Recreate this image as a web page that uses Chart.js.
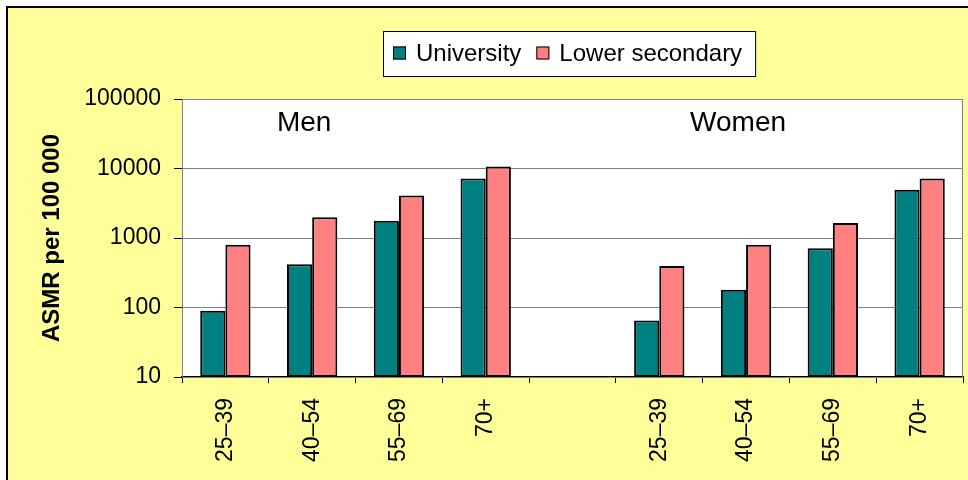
<!DOCTYPE html>
<html>
<head>
<meta charset="utf-8">
<title>ASMR by education</title>
<script src="https://cdn.jsdelivr.net/npm/chart.js@4/dist/chart.umd.min.js"></script>
<style>
  html, body { margin: 0; padding: 0; background: #fff; }
  #frame {
    position: absolute; left: 6px; top: 6px;
    border-left: 2px solid #000; border-top: 2px solid #000;
    background: #ffff99;
  }
  #frame canvas { display: block; }
</style>
</head>
<body>
<div id="frame"><canvas id="chart" width="960" height="472"></canvas></div>
<script>
// Age groups, men first, then one empty slot, then women
const categories = ['25–39', '40–54', '55–69', '70+', '', '25–39', '40–54', '55–69', '70+'];
const university = [90, 420, 1770, 7200, null, 65, 180, 710, 4950];
const lowerSecondary = [800, 1990, 4100, 10700, null, 395, 800, 1650, 7200];
const yTicks = [10, 100, 1000, 10000, 100000];
const groupLabels = ['Men', 'Women'];
const groupAt = [1, 6];   // category index each group label sits over

const FONT = 'Arial, "Liberation Sans", sans-serif';

// legend drawn as a white bordered box above the plot, Excel style
const boxLegend = {
  id: 'boxLegend',
  afterDraw(chart) {
    const ctx = chart.ctx;
    ctx.save();
    ctx.font = '24px ' + FONT;
    const sets = chart.data.datasets;
    const widths = sets.map(ds => ctx.measureText(ds.label).width);
    let w = 10 + 13;
    widths.forEach((tw, i) => { w += 10 + tw + (i < widths.length - 1 ? 15 + 13 : 13); });
    const h = 45;
    const left = Math.round((chart.chartArea.left + chart.chartArea.right) / 2 - w / 2) - 3;
    const top = 23;
    ctx.fillStyle = '#fff';
    ctx.fillRect(left, top, w, h);
    ctx.strokeStyle = '#000';
    ctx.lineWidth = 1;
    ctx.strokeRect(left + 0.5, top + 0.5, w, h);
    let x = left + 10;
    const cy = top + h / 2;
    sets.forEach((ds, i) => {
      ctx.fillStyle = ds.backgroundColor;
      ctx.fillRect(x, cy - 7, 13, 13);
      ctx.strokeStyle = '#000';
      ctx.strokeRect(x + 0.5, cy - 6.5, 12, 12);
      x += 13 + 10;
      ctx.fillStyle = '#000';
      ctx.textBaseline = 'middle';
      ctx.textAlign = 'left';
      ctx.fillText(ds.label, x, cy + 1);
      x += widths[i] + 15;
    });
    ctx.restore();
  }
};

// white plot area with grey frame, plus the Men / Women captions
const plotFrame = {
  id: 'plotFrame',
  beforeDraw(chart) {
    const a = chart.chartArea;
    chart.ctx.save();
    chart.ctx.fillStyle = '#fff';
    chart.ctx.fillRect(a.left, a.top, a.right - a.left, a.bottom - a.top);
    chart.ctx.restore();
  },
  afterDatasetsDraw(chart) {
    const a = chart.chartArea;
    const ctx = chart.ctx;
    const xs = chart.scales.x;
    ctx.save();
    ctx.strokeStyle = '#808080';
    ctx.lineWidth = 1;
    ctx.strokeRect(a.left + 0.5, a.top + 0.5, a.right - a.left - 1, a.bottom - a.top);
    ctx.font = '28px ' + FONT;
    ctx.fillStyle = '#000';
    ctx.textAlign = 'center';
    ctx.textBaseline = 'middle';
    groupLabels.forEach((t, i) => {
      ctx.fillText(t, xs.getPixelForValue(groupAt[i]) - 8, a.top + 24);
    });
    ctx.restore();
  }
};

new Chart(document.getElementById('chart'), {
  type: 'bar',
  data: {
    labels: categories,
    datasets: [
      {
        label: 'University',
        data: university,
        backgroundColor: '#008080',
        borderColor: '#000',
        borderWidth: 2,
        borderSkipped: false,
      },
      {
        label: 'Lower secondary',
        data: lowerSecondary,
        backgroundColor: '#ff8080',
        borderColor: '#000',
        borderWidth: 2,
        borderSkipped: false,
      },
    ],
  },
  options: {
    responsive: false,
    animation: false,
    layout: { padding: { top: 91, right: 5, left: 0, bottom: 0 } },
    datasets: { bar: { categoryPercentage: 0.58, barPercentage: 1.0 } },
    plugins: {
      legend: { display: false },
      tooltip: { enabled: false },
    },
    scales: {
      x: {
        afterFit: (s) => { s.height = 103; },
        grid: {
          offset: true,
          drawOnChartArea: false,
          drawTicks: true,
          tickLength: 6,
          tickColor: '#000',
        },
        border: { color: '#000', width: 1.5 },
        ticks: {
          autoSkip: false,
          minRotation: 90,
          maxRotation: 90,
          padding: 15,
          color: '#000',
          font: { family: FONT, size: 23 },
        },
      },
      y: {
        type: 'logarithmic',
        min: 10,
        max: 100000,
        afterFit: (s) => { s.width = 174; },
        afterBuildTicks: (s) => { s.ticks = yTicks.map(v => ({ value: v })); },
        grid: {
          color: '#808080',
          lineWidth: 1,
          tickLength: 8,
          tickColor: '#000',
        },
        border: { color: '#000', width: 1 },
        ticks: {
          padding: 13,
          color: '#000',
          font: { family: FONT, size: 23 },
          callback: (v) => String(v),
        },
        title: {
          display: true,
          text: 'ASMR per 100 000',
          color: '#000',
          padding: { top: 30, bottom: 0 },
          font: { family: FONT, size: 24, weight: 'bold' },
        },
      },
    },
  },
  plugins: [plotFrame, boxLegend],
});
</script>
</body>
</html>
